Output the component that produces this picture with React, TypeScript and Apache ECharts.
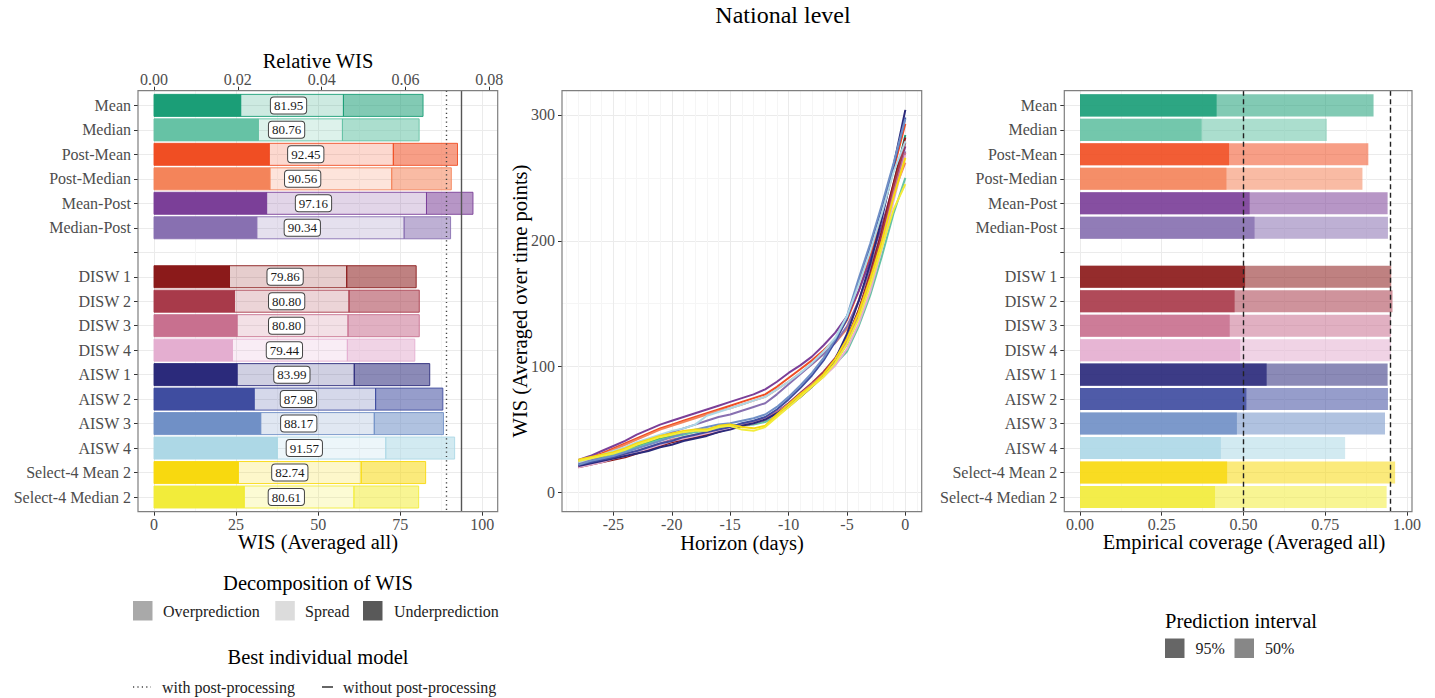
import React, { useEffect, useRef } from "react";
import * as echarts from "echarts";

const FONT = '"Liberation Serif", "Times New Roman", serif';

// ---------- data ----------
const models = [
  "Mean", "Median", "Post-Mean", "Post-Median", "Mean-Post", "Median-Post",
  "DISW 1", "DISW 2", "DISW 3", "DISW 4",
  "AISW 1", "AISW 2", "AISW 3", "AISW 4",
  "Select-4 Mean 2", "Select-4 Median 2",
];
const axisCategories = [
  "Mean", "Median", "Post-Mean", "Post-Median", "Mean-Post", "Median-Post", "",
  "DISW 1", "DISW 2", "DISW 3", "DISW 4",
  "AISW 1", "AISW 2", "AISW 3", "AISW 4",
  "Select-4 Mean 2", "Select-4 Median 2",
];
const colors = [
  "#1b9e77", "#66c2a5", "#f04e23", "#f4845a", "#7b3f98", "#8870b1",
  "#8b1a1a", "#a83a4a", "#c8708f", "#e4aed0",
  "#2b2a7b", "#3f4da0", "#7090c6", "#add8e6",
  "#f8d90f", "#f2ec3a",
];

// WIS decomposition (averaged all)
const underprediction = [26.4, 31.8, 35.1, 35.3, 34.3, 31.3, 23.0, 24.5, 25.3, 23.9, 25.3, 30.5, 32.5, 37.6, 25.7, 27.5];
const spread = [31.3, 25.6, 37.8, 37.1, 48.7, 44.9, 35.7, 34.9, 33.8, 35.0, 35.7, 37.0, 34.6, 33.0, 37.4, 33.4];
const overprediction = [24.25, 23.36, 19.55, 18.16, 14.16, 14.14, 21.16, 21.4, 21.7, 20.54, 22.99, 20.48, 21.07, 20.97, 19.64, 19.71];
const wisTotalLabels = ["81.95", "80.76", "92.45", "90.56", "97.16", "90.34", "79.86", "80.80", "80.80", "79.44", "83.99", "87.98", "88.17", "91.57", "82.74", "80.61"];
const bestWithPost = 89.1;
const bestWithoutPost = 93.5;

// Empirical coverage
const coverage50 = [0.418, 0.372, 0.456, 0.448, 0.519, 0.534, 0.505, 0.473, 0.458, 0.49, 0.571, 0.509, 0.48, 0.431, 0.45, 0.413];
const coverage95 = [0.898, 0.755, 0.882, 0.864, 0.941, 0.942, 0.952, 0.956, 0.951, 0.951, 0.941, 0.942, 0.933, 0.811, 0.964, 0.938];
const nominalLevels = [0.5, 0.95];

// WIS by horizon
const horizons = [-28, -27, -26, -25, -24, -23, -22, -21, -20, -19, -18, -17, -16, -15, -14, -13, -12, -11, -10, -9, -8, -7, -6, -5, -4, -3, -2, -1, 0];
const horizonTicks = [-25, -20, -15, -10, -5, 0];
const wisTicks = [0, 100, 200, 300];
const wisMean = [24, 26, 28, 31, 34, 37, 40, 43, 45, 47, 49, 50, 52, 53, 54, 55, 57, 62, 69, 77, 85, 94, 104, 118, 140, 168, 205, 245, 284];
const wisMedian = [23, 25, 27, 30, 33, 36, 39, 42, 44, 46, 48, 49, 51, 52, 53, 54, 56, 61, 68, 76, 84, 93, 102, 112, 132, 157, 188, 222, 250];
const wisPostMean = [25, 28, 31, 35, 39, 43, 47, 51, 54, 57, 60, 63, 66, 69, 72, 75, 78, 84, 91, 98, 105, 113, 122, 137, 160, 188, 220, 257, 293];
const wisPostMedian = [24, 27, 30, 34, 38, 42, 46, 50, 53, 56, 59, 62, 65, 67, 70, 73, 76, 82, 88, 95, 102, 110, 119, 130, 152, 178, 206, 238, 262];
const wisMeanPost = [26, 29, 33, 37, 41, 46, 50, 54, 57, 60, 63, 66, 69, 72, 75, 78, 82, 88, 95, 101, 108, 117, 127, 140, 160, 185, 212, 245, 275];
const wisMedianPost = [23, 26, 29, 32, 35, 38, 42, 45, 48, 51, 54, 57, 60, 62, 65, 68, 71, 78, 86, 94, 102, 110, 119, 132, 152, 178, 208, 242, 271];
const wisDISW1 = [20, 22, 24, 26, 28, 31, 34, 37, 40, 42, 44, 46, 48, 51, 53, 55, 58, 63, 70, 78, 86, 95, 106, 122, 145, 174, 208, 246, 282];
const wisDISW2 = [21, 23, 25, 27, 29, 32, 35, 38, 41, 43, 45, 47, 49, 51, 53, 56, 59, 64, 71, 79, 87, 96, 107, 122, 144, 172, 205, 243, 278];
const wisDISW3 = [21, 23, 25, 28, 30, 33, 36, 39, 42, 44, 46, 48, 50, 52, 54, 56, 59, 64, 70, 78, 86, 94, 104, 119, 140, 167, 200, 238, 270];
const wisDISW4 = [20, 22, 24, 27, 29, 32, 35, 38, 41, 43, 45, 47, 49, 51, 53, 55, 58, 62, 68, 76, 84, 92, 101, 114, 134, 160, 194, 232, 268];
const wisAISW1 = [21, 23, 25, 27, 29, 31, 33, 36, 38, 41, 43, 45, 48, 50, 53, 55, 58, 63, 69, 76, 84, 93, 106, 126, 152, 182, 218, 260, 304];
const wisAISW2 = [22, 24, 26, 28, 31, 33, 36, 39, 41, 44, 46, 48, 50, 52, 55, 57, 60, 66, 74, 83, 93, 105, 120, 138, 168, 196, 227, 260, 298];
const wisAISW3 = [22, 25, 27, 29, 32, 35, 38, 41, 44, 47, 50, 52, 54, 55, 57, 59, 62, 68, 76, 85, 95, 107, 122, 140, 170, 198, 229, 262, 297];
const wisAISW4 = [24, 27, 30, 33, 36, 40, 43, 46, 49, 51, 54, 61, 64, 67, 70, 73, 76, 82, 88, 95, 103, 112, 123, 140, 165, 192, 222, 255, 279];
const wisSelMean2 = [26, 28, 30, 32, 35, 39, 42, 45, 47, 49, 50, 50, 53, 54, 52, 51, 53, 62, 70, 78, 85, 94, 106, 122, 143, 170, 200, 235, 266];
const wisSelMedian2 = [25, 27, 29, 31, 34, 38, 41, 44, 46, 48, 49, 49, 52, 53, 50, 49, 52, 60, 68, 76, 84, 92, 103, 118, 138, 165, 195, 225, 245];
const wisByHorizon = [
  wisMean, wisMedian, wisPostMean, wisPostMedian, wisMeanPost, wisMedianPost,
  wisDISW1, wisDISW2, wisDISW3, wisDISW4,
  wisAISW1, wisAISW2, wisAISW3, wisAISW4,
  wisSelMean2, wisSelMedian2,
];

// ---------- helpers ----------
function rgba(hex: string, a: number) {
  const n = parseInt(hex.slice(1), 16);
  return `rgba(${(n >> 16) & 255},${(n >> 8) & 255},${n & 255},${a})`;
}

const TICK_LABEL = { color: "#4d4d4d", fontSize: 16, fontFamily: FONT };
const TICK = { show: true, length: 4, lineStyle: { color: "#333", width: 1 } };
const SPLIT = { show: true, lineStyle: { color: "#ebebeb", width: 1 } };
const MINOR_SPLIT = { show: true, lineStyle: { color: "#f5f5f5", width: 1 } };
const NO_LINE = { show: false, onZero: false };

const PANEL_TOP = 90.7;
const PANEL_H = 421;
const ROW_TOP = 105.4;
const ROW_H = 391.7;

function text(x: number, y: number, str: string, size: number, opts: any = {}) {
  return {
    type: "text",
    x,
    y,
    rotation: opts.rotation || 0,
    z: 100,
    style: {
      text: str,
      fill: opts.fill || "#000",
      font: `${size}px ${FONT}`,
      align: opts.align || "center",
      verticalAlign: "middle",
      textAlign: opts.align || "center",
      textVerticalAlign: "middle",
    },
  };
}
function rectG(x: number, y: number, w: number, h: number, fill: string) {
  return { type: "rect", z: 100, shape: { x, y, width: w, height: h }, style: { fill } };
}
function frame(x: number, w: number) {
  return {
    type: "rect",
    z: 90,
    silent: true,
    shape: { x, y: PANEL_TOP, width: w, height: PANEL_H },
    style: { fill: "none", stroke: "#7f7f7f", lineWidth: 1.2 },
  };
}

export default function App() {
  const ref = useRef<HTMLDivElement>(null);

  useEffect(() => {
    if (!ref.current) return;
    const chart = echarts.init(ref.current, undefined, { renderer: "svg" });

    const wisData = models.map((m, i) => [axisCategories.indexOf(m), underprediction[i], spread[i], overprediction[i]]);
    const covData = models.map((m, i) => [axisCategories.indexOf(m), coverage50[i], coverage95[i]]);

    const lineSeries = models.map((m, i) => ({
      name: m,
      type: "line",
      xAxisIndex: 3,
      yAxisIndex: 3,
      showSymbol: false,
      symbol: "none",
      silent: true,
      lineStyle: { color: colors[i], width: 2 },
      itemStyle: { color: colors[i] },
      data: horizons.map((h, k) => [h, wisByHorizon[i][k]]),
      z: 3,
    }));

    const option: any = {
      animation: false,
      backgroundColor: "#fff",
      grid: [
        { left: 154, top: PANEL_TOP, width: 328.3, height: PANEL_H },
        { left: 138, top: ROW_TOP, width: 359.7, height: ROW_H },
        { left: 154, top: PANEL_TOP, width: 335.3, height: PANEL_H },
        { left: 562, top: PANEL_TOP, width: 359.7, height: PANEL_H },
        { left: 1080, top: PANEL_TOP, width: 326.9, height: PANEL_H },
        { left: 1064.3, top: ROW_TOP, width: 347.7, height: ROW_H },
      ],
      xAxis: [
        {
          gridIndex: 0, type: "value", min: 0, max: 100, interval: 25, position: "bottom",
          axisLine: NO_LINE, axisTick: TICK,
          axisLabel: { ...TICK_LABEL, margin: 5 },
          splitLine: SPLIT,
          minorTick: { show: false, splitNumber: 2 },
          minorSplitLine: MINOR_SPLIT,
        },
        { gridIndex: 1, type: "value", show: false, axisLine: NO_LINE },
        {
          gridIndex: 2, type: "value", min: 0, max: 0.08, interval: 0.02, position: "top",
          axisLine: NO_LINE, axisTick: TICK,
          axisLabel: { ...TICK_LABEL, margin: 3, formatter: (v: number) => v.toFixed(2) },
          splitLine: { show: false },
        },
        {
          gridIndex: 3, type: "value", min: -29.4, max: 1.4, splitNumber: 5, position: "bottom",
          axisLine: NO_LINE,
          axisTick: { ...TICK, customValues: horizonTicks },
          axisLabel: { ...TICK_LABEL, margin: 5, customValues: horizonTicks },
          splitLine: SPLIT,
          minorTick: { show: false, splitNumber: 5 },
          minorSplitLine: MINOR_SPLIT,
        },
        {
          gridIndex: 4, type: "value", min: 0, max: 1, interval: 0.25, position: "bottom",
          axisLine: NO_LINE, axisTick: TICK,
          axisLabel: { ...TICK_LABEL, margin: 5, formatter: (v: number) => v.toFixed(2) },
          splitLine: SPLIT,
          minorTick: { show: false, splitNumber: 2 },
          minorSplitLine: MINOR_SPLIT,
        },
        { gridIndex: 5, type: "value", show: false, axisLine: NO_LINE },
      ],
      yAxis: [
        { gridIndex: 0, type: "value", min: -0.6, max: 16.6, inverse: true, show: false, axisLine: NO_LINE },
        {
          gridIndex: 1, type: "category", data: axisCategories, inverse: true, boundaryGap: false, position: "left",
          axisLine: NO_LINE,
          axisTick: { ...TICK, interval: 0 },
          axisLabel: { ...TICK_LABEL, interval: 0, margin: 7 },
          splitLine: { ...SPLIT, interval: 0 },
        },
        { gridIndex: 2, type: "value", show: false, axisLine: NO_LINE },
        {
          gridIndex: 3, type: "value", min: -15.2, max: 319.2, splitNumber: 3, position: "left",
          axisLine: NO_LINE,
          axisTick: { ...TICK, customValues: wisTicks },
          axisLabel: { ...TICK_LABEL, margin: 7, customValues: wisTicks },
          splitLine: SPLIT,
          minorTick: { show: false, splitNumber: 2 },
          minorSplitLine: MINOR_SPLIT,
        },
        { gridIndex: 4, type: "value", min: -0.6, max: 16.6, inverse: true, show: false, axisLine: NO_LINE },
        {
          gridIndex: 5, type: "category", data: axisCategories, inverse: true, boundaryGap: false, position: "left",
          axisLine: NO_LINE,
          axisTick: { ...TICK, interval: 0 },
          axisLabel: { ...TICK_LABEL, interval: 0, margin: 7 },
          splitLine: { ...SPLIT, interval: 0 },
        },
      ],
      series: [
        {
          type: "custom",
          name: "WIS decomposition",
          xAxisIndex: 0,
          yAxisIndex: 0,
          silent: true,
          z: 2,
          encode: { x: [1, 2, 3], y: 0 },
          data: wisData,
          renderItem: (params: any, api: any) => {
            const i = params.dataIndex;
            const row = api.value(0);
            const u = api.value(1);
            const s = api.value(2);
            const o = api.value(3);
            const col = colors[i];
            const h = api.size([0, 1])[1] * 0.9;
            const a = api.coord([0, row]);
            const b = api.coord([u, row]);
            const c = api.coord([u + s, row]);
            const d = api.coord([u + s + o, row]);
            const mid = api.coord([(u + s + o) / 2, row]);
            const y = a[1] - h / 2;
            const seg = (x0: number, x1: number, fill: string) => ({
              type: "rect",
              shape: { x: x0, y, width: x1 - x0, height: h },
              style: { fill, stroke: rgba(col, 0.9), lineWidth: 1 },
            });
            return {
              type: "group",
              children: [
                seg(a[0], b[0], col),
                seg(b[0], c[0], rgba(col, 0.22)),
                seg(c[0], d[0], rgba(col, 0.55)),
                {
                  type: "text",
                  z2: 10,
                  x: mid[0],
                  y: mid[1],
                  style: {
                    text: wisTotalLabels[i],
                    fill: "#1a1a1a",
                    font: `13px ${FONT}`,
                    align: "center",
                    verticalAlign: "middle",
                    backgroundColor: "#ffffff",
                    borderColor: "#444",
                    borderWidth: 1,
                    borderRadius: 3,
                    padding: [2, 3, 1, 3],
                  },
                },
              ],
            };
          },
        },
        {
          type: "line",
          name: "best-ref",
          xAxisIndex: 0,
          yAxisIndex: 0,
          data: [],
          silent: true,
          z: 5,
          markLine: {
            silent: true,
            symbol: ["none", "none"],
            label: { show: false },
            animation: false,
            data: [
              { xAxis: bestWithPost, lineStyle: { color: "#444", width: 1.4, type: [1.2, 3.2] } },
              { xAxis: bestWithoutPost, lineStyle: { color: "#555", width: 1.4, type: "solid" } },
            ],
          },
        },
        ...lineSeries,
        {
          type: "custom",
          name: "Coverage",
          xAxisIndex: 4,
          yAxisIndex: 4,
          silent: true,
          z: 2,
          encode: { x: [1, 2], y: 0 },
          data: covData,
          renderItem: (params: any, api: any) => {
            const i = params.dataIndex;
            const row = api.value(0);
            const c50 = api.value(1);
            const c95 = api.value(2);
            const col = colors[i];
            const h = api.size([0, 1])[1] * 0.9;
            const a = api.coord([0, row]);
            const b = api.coord([c50, row]);
            const c = api.coord([c95, row]);
            const y = a[1] - h / 2;
            return {
              type: "group",
              children: [
                { type: "rect", shape: { x: a[0], y, width: c[0] - a[0], height: h }, style: { fill: rgba(col, 0.55) } },
                { type: "rect", shape: { x: a[0], y, width: b[0] - a[0], height: h }, style: { fill: rgba(col, 0.82) } },
              ],
            };
          },
        },
        {
          type: "line",
          name: "nominal",
          xAxisIndex: 4,
          yAxisIndex: 4,
          data: [],
          silent: true,
          z: 5,
          markLine: {
            silent: true,
            symbol: ["none", "none"],
            label: { show: false },
            animation: false,
            lineStyle: { color: "#222", width: 1.4, type: [5, 3.5] },
            data: nominalLevels.map((v) => ({ xAxis: v })),
          },
        },
      ],
      graphic: [
        frame(138, 359.7),
        frame(562, 359.7),
        frame(1064.3, 347.7),
        text(783, 15, "National level", 24),
        text(318, 61, "Relative WIS", 20.5),
        text(318, 542, "WIS (Averaged all)", 20.5),
        text(742, 543, "Horizon (days)", 20.5),
        text(520, 301, "WIS (Averaged over time points)", 20.5, { rotation: Math.PI / 2 }),
        text(1244, 542, "Empirical coverage (Averaged all)", 20.5),
        // Decomposition legend
        text(318, 583, "Decomposition of WIS", 20.5),
        rectG(133, 601, 19.5, 19.5, "#a9a9a9"),
        text(163, 611, "Overprediction", 16, { align: "left", fill: "#222" }),
        rectG(275.3, 601, 19.5, 19.5, "#dcdcdc"),
        text(305, 611, "Spread", 16, { align: "left", fill: "#222" }),
        rectG(363, 601, 19.5, 19.5, "#595959"),
        text(394, 611, "Underprediction", 16, { align: "left", fill: "#222" }),
        // Best individual model legend
        text(318, 657, "Best individual model", 20.5),
        {
          type: "line", z: 100,
          shape: { x1: 133, y1: 687, x2: 151, y2: 687 },
          style: { stroke: "#444", lineWidth: 1.3, lineDash: [1.2, 3.2] },
        },
        text(162, 687, "with post-processing", 16, { align: "left", fill: "#222" }),
        {
          type: "line", z: 100,
          shape: { x1: 322, y1: 687, x2: 333, y2: 687 },
          style: { stroke: "#333", lineWidth: 1.5 },
        },
        text(343, 687, "without post-processing", 16, { align: "left", fill: "#222" }),
        // Prediction interval legend
        text(1165, 621, "Prediction interval", 20.5, { align: "left" }),
        rectG(1165, 638.5, 19.5, 19.5, "#666666"),
        text(1195.5, 648.5, "95%", 16, { align: "left", fill: "#222" }),
        rectG(1234.5, 638.5, 19.5, 19.5, "#878787"),
        text(1265, 648.5, "50%", 16, { align: "left", fill: "#222" }),
      ],
    };

    chart.setOption(option);
    return () => chart.dispose();
  }, []);

  return (
    <div
      ref={ref}
      style={{ position: "absolute", left: 0, top: 0, width: 1435, height: 698, background: "#fff" }}
    />
  );
}
